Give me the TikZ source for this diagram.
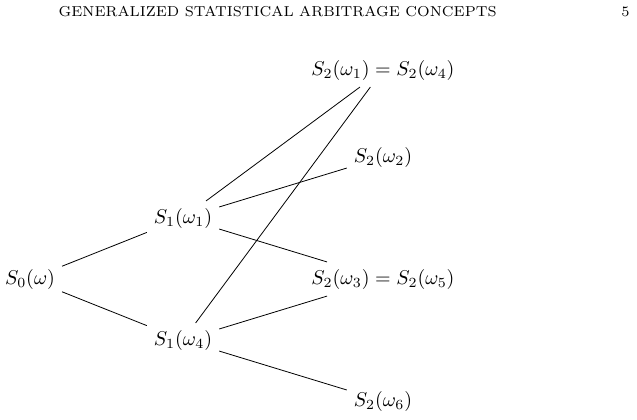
\documentclass[tikz,border=0pt]{standalone}
\begin{document}
\begin{tikzpicture}[scale=1.0, every node/.style={font=\normalsize}]
\useasboundingbox (-0.527,-2.460) rectangle (10.667,4.903);
\node[anchor=base west, font=\fontsize{7.2}{9}\selectfont, inner sep=0pt] (head) at (0.497,4.609) {GENERALIZED STATISTICAL ARBITRAGE CONCEPTS};
\node[anchor=base east, font=\fontsize{7.2}{9}\selectfont, inner sep=0pt] (page) at (10.544,4.609) {5};
\node (s0) at (0,0) {$S_0(\omega)$};
\node (s1a) at (2.689,1.072) {$S_1(\omega_1)$};
\node (s1b) at (2.689,-1.072) {$S_1(\omega_4)$};
\node (s2a) at (6.203,3.673) {$S_2(\omega_1) = S_2(\omega_4)$};
\node (s2b) at (6.203,2.144) {$S_2(\omega_2)$};
\node (s2c) at (6.203,0) {$S_2(\omega_3) = S_2(\omega_5)$};
\node (s2d) at (6.203,-2.144) {$S_2(\omega_6)$};
\foreach \a/\b in {s0/s1a,s0/s1b,s1a/s2a,s1a/s2b,s1a/s2c,s1b/s2a,s1b/s2c,s1b/s2d}
  \draw (\a) -- (\b);
\end{tikzpicture}
\end{document}
